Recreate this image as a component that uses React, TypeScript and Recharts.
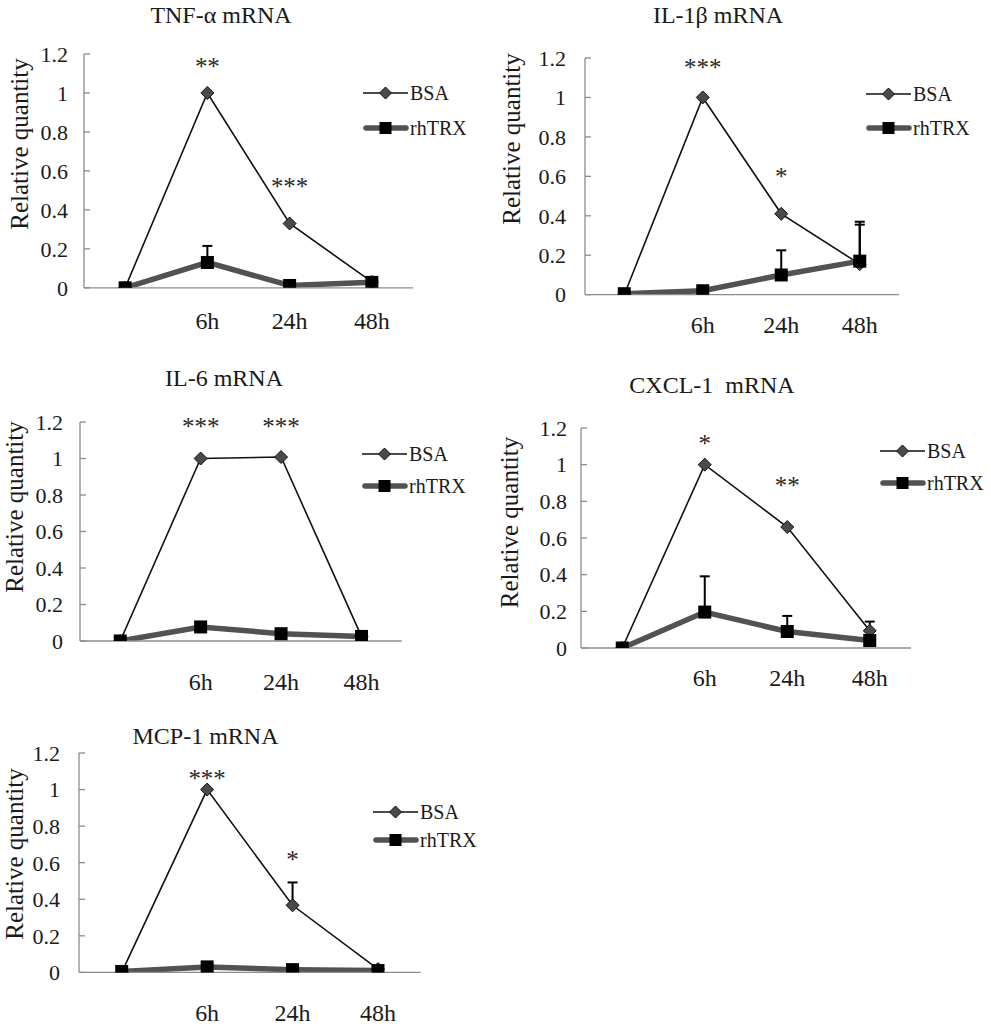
import React from "react";
import { LineChart, Line, XAxis, YAxis, ErrorBar, ReferenceDot, Legend } from "recharts";

const timeLabels = ["", "6h", "24h", "48h"];
const yTicks = [0, 0.2, 0.4, 0.6, 0.8, 1, 1.2];
const seriesNames = ["BSA", "rhTRX"];

// TNF-α
const tnfBsa = [0, 1.0, 0.33, 0.03];
const tnfTrx = [0, 0.13, 0.012, 0.028];
const tnfBsaErr = [null, null, null, null];
const tnfTrxErr = [null, 0.085, null, null];
const tnfStars = ["", "**", "***", ""];
const tnfStarY = [null, 1.14, 0.52, null];

// IL-1β
const il1Bsa = [0, 1.0, 0.41, 0.155];
const il1Trx = [0.005, 0.02, 0.1, 0.17];
const il1BsaErr = [null, null, null, 0.2];
const il1TrxErr = [null, null, 0.125, 0.2];
const il1Stars = ["", "***", "*", ""];
const il1StarY = [null, 1.155, 0.6, null];

// IL-6
const il6Bsa = [0, 1.0, 1.008, 0.025];
const il6Trx = [0, 0.077, 0.04, 0.025];
const il6BsaErr = [null, null, null, null];
const il6TrxErr = [null, null, null, null];
const il6Stars = ["", "***", "***", ""];
const il6StarY = [null, 1.18, 1.18, null];

// CXCL-1
const cxclBsa = [0, 1.0, 0.66, 0.094];
const cxclTrx = [0, 0.196, 0.09, 0.041];
const cxclBsaErr = [null, null, null, 0.05];
const cxclTrxErr = [null, 0.195, 0.085, null];
const cxclStars = ["", "*", "**", ""];
const cxclStarY = [null, 1.12, 0.89, null];

// MCP-1
const mcpBsa = [0, 1.0, 0.367, 0.018];
const mcpTrx = [0.005, 0.03, 0.015, 0.01];
const mcpBsaErr = [null, null, 0.125, null];
const mcpTrxErr = [null, null, null, null];
const mcpStars = ["", "***", "*", ""];
const mcpStarY = [null, 1.06, 0.62, null];

const SERIF = '"Liberation Serif", "Times New Roman", serif';
const TEXT = "#1a1a1a";
const AXIS = "#8c8c8c";
const BSA_LINE = "#111";
const TRX_LINE = "#525252";

const panels = [
  {
    title: "TNF-α mRNA", bsa: tnfBsa, trx: tnfTrx, bsaErr: tnfBsaErr, trxErr: tnfTrxErr, stars: tnfStars, starY: tnfStarY,
    box: { axisX: 84, axisRight: 413, y12: 53.5, y0: 287.3, titleX: 221, titleY: 22.7, labelX: 28, labelY: 144, legendX: 363, legendY1: 93, legendY2: 128, xLabelY: 320, tickGap: 16 },
  },
  {
    title: "IL-1β mRNA", bsa: il1Bsa, trx: il1Trx, bsaErr: il1BsaErr, trxErr: il1TrxErr, stars: il1Stars, starY: il1StarY,
    box: { axisX: 585, axisRight: 899, y12: 58.3, y0: 295, titleX: 718, titleY: 22.7, labelX: 520, labelY: 139, legendX: 866, legendY1: 94.3, legendY2: 128.3, xLabelY: 325, tickGap: 19 },
  },
  {
    title: "IL-6 mRNA", bsa: il6Bsa, trx: il6Trx, bsaErr: il6BsaErr, trxErr: il6TrxErr, stars: il6Stars, starY: il6StarY,
    box: { axisX: 80, axisRight: 401.7, y12: 421.7, y0: 640.7, titleX: 224, titleY: 386, labelX: 23, labelY: 507, legendX: 362, legendY1: 454.3, legendY2: 486, xLabelY: 681.7, tickGap: 17 },
  },
  {
    title: "CXCL-1  mRNA", bsa: cxclBsa, trx: cxclTrx, bsaErr: cxclBsaErr, trxErr: cxclTrxErr, stars: cxclStars, starY: cxclStarY,
    box: { axisX: 580.7, axisRight: 910.7, y12: 428.3, y0: 648.3, titleX: 712, titleY: 393.3, labelX: 518, labelY: 522.5, legendX: 880, legendY1: 450.7, legendY2: 482.7, xLabelY: 678, tickGap: 14 },
  },
  {
    title: "MCP-1 mRNA", bsa: mcpBsa, trx: mcpTrx, bsaErr: mcpBsaErr, trxErr: mcpTrxErr, stars: mcpStars, starY: mcpStarY,
    box: { axisX: 79, axisRight: 420.7, y12: 753.3, y0: 972.7, titleX: 205.5, titleY: 744, labelX: 23, labelY: 854, legendX: 373, legendY1: 812.3, legendY2: 840, xLabelY: 1013, tickGap: 19 },
  },
];

const diamondPath = (cx: number, cy: number, s: number) =>
  `M${cx},${cy - s}L${cx + s},${cy}L${cx},${cy + s}L${cx - s},${cy}Z`;

const renderDiamond = (props: any) => {
  const { cx, cy, index } = props;
  if (cx == null || cy == null) return <g key={`d-${index}`} />;
  return <path key={`d-${index}`} d={diamondPath(cx, cy, 6.5)} fill="#4a4a4a" stroke="#111" strokeWidth={1} />;
};

const renderSquare = (props: any) => {
  const { cx, cy, index } = props;
  if (cx == null || cy == null) return <g key={`s-${index}`} />;
  return <rect key={`s-${index}`} x={cx - 6.5} y={cy - 6.5} width={13} height={13} fill="#000" />;
};

function LegendBox({ gap }: { gap: number }) {
  const row = { display: "flex", alignItems: "center", height: 22, whiteSpace: "nowrap" as const };
  return (
    <div style={{ fontFamily: SERIF, fontSize: 20, color: TEXT, lineHeight: "22px" }}>
      <div style={row}>
        <svg width={47} height={16} style={{ display: "block" }}>
          <line x1={0} y1={8} x2={45} y2={8} stroke={BSA_LINE} strokeWidth={1.6} />
          <path d={diamondPath(22.5, 8, 6)} fill="#4a4a4a" stroke="#111" strokeWidth={1} />
        </svg>
        <span>{seriesNames[0]}</span>
      </div>
      <div style={{ ...row, marginTop: gap - 22 }}>
        <svg width={47} height={16} style={{ display: "block" }}>
          <line x1={3} y1={8} x2={43} y2={8} stroke={TRX_LINE} strokeWidth={5.5} strokeLinecap="round" />
          <rect x={16.5} y={2} width={12} height={12} fill="#000" />
        </svg>
        <span>{seriesNames[1]}</span>
      </div>
    </div>
  );
}

const hasAny = (arr: (number | null)[]) => arr.some((v) => v != null);

function Panel({ p }: { p: (typeof panels)[number] }) {
  const b = p.box;
  const yAxisW = 70;
  const xAxisH = 62;
  const left = b.axisX - yAxisW;
  const top = b.y12 - 20;
  const width = b.legendX + 120 - left;
  const height = b.y0 + xAxisH - top;
  const plotW = b.axisRight - b.axisX;
  const pad = plotW / 8;
  const data = timeLabels.map((t, i) => ({
    t,
    bsa: p.bsa[i],
    trx: p.trx[i],
    bsaErr: p.bsaErr[i] == null ? null : [0, p.bsaErr[i]],
    trxErr: p.trxErr[i] == null ? null : [0, p.trxErr[i]],
  }));
  const tickFont = { fontSize: 22, fill: TEXT, fontFamily: SERIF };

  return (
    <div style={{ position: "absolute", left, top, width, height }}>
      <LineChart
        width={width}
        height={height}
        data={data}
        margin={{ top: 20, right: width - yAxisW - plotW, bottom: 0, left: 0 }}
      >
        <XAxis
          dataKey="t"
          interval={0}
          padding={{ left: pad, right: pad }}
          axisLine={{ stroke: AXIS, strokeWidth: 1.3 }}
          tickLine={false}
          tickSize={0}
          tickMargin={b.xLabelY - b.y0 - 9}
          height={xAxisH}
          tick={{ fontSize: 24, fill: TEXT, fontFamily: SERIF }}
        />
        <YAxis
          width={yAxisW}
          domain={[0, 1.2]}
          ticks={yTicks}
          interval={0}
          allowDataOverflow
          axisLine={{ stroke: AXIS, strokeWidth: 1.3 }}
          tickLine={{ stroke: AXIS, strokeWidth: 1.3 }}
          tickSize={-6}
          tickMargin={6 + b.tickGap}
          tick={tickFont}
        />
        <Line
          type="linear"
          dataKey="bsa"
          name={seriesNames[0]}
          stroke={BSA_LINE}
          strokeWidth={1.6}
          dot={renderDiamond}
          activeDot={false}
          isAnimationActive={false}
        >
          {hasAny(p.bsaErr) && (
            <ErrorBar dataKey="bsaErr" direction="y" width={5} strokeWidth={2} stroke="#000" />
          )}
        </Line>
        <Line
          type="linear"
          dataKey="trx"
          name={seriesNames[1]}
          stroke={TRX_LINE}
          strokeWidth={5.5}
          dot={renderSquare}
          activeDot={false}
          isAnimationActive={false}
        >
          {hasAny(p.trxErr) && (
            <ErrorBar dataKey="trxErr" direction="y" width={5} strokeWidth={2} stroke="#000" />
          )}
        </Line>
        {p.stars.map((s, i) =>
          s ? (
            <ReferenceDot
              key={`star-${i}`}
              x={timeLabels[i]}
              y={p.starY[i] as number}
              r={0}
              fill="none"
              stroke="none"
              label={{ value: s, position: "center", fontSize: 25, fill: "#2a2a2a", fontFamily: SERIF }}
            />
          ) : null
        )}
        <Legend
          layout="vertical"
          align="center"
          verticalAlign="middle"
          wrapperStyle={{ left: b.legendX - left, top: b.legendY1 - 11 - top, width: 120 }}
          content={() => <LegendBox gap={b.legendY2 - b.legendY1} />}
        />
      </LineChart>
    </div>
  );
}

export default function App() {
  return (
    <div style={{ position: "absolute", left: 0, top: 0, width: 991, height: 1026, background: "#fff" }}>
      {panels.map((p, i) => (
        <Panel key={i} p={p} />
      ))}
      <svg
        width={991}
        height={1026}
        style={{ position: "absolute", left: 0, top: 0, pointerEvents: "none" }}
      >
        {panels.map((p, i) => (
          <g key={i} fontFamily={SERIF} fill={TEXT}>
            <text x={p.box.titleX} y={p.box.titleY} textAnchor="middle" fontSize={24} style={{ whiteSpace: "pre" }}>
              {p.title}
            </text>
            <text
              x={p.box.labelX}
              y={p.box.labelY}
              textAnchor="middle"
              fontSize={25}
              transform={`rotate(-90 ${p.box.labelX} ${p.box.labelY})`}
            >
              Relative quantity
            </text>
          </g>
        ))}
      </svg>
    </div>
  );
}
